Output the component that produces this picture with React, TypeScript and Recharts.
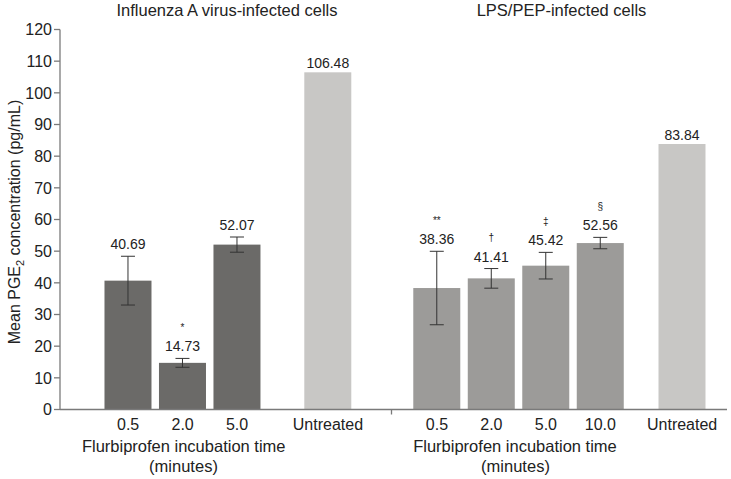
import React from 'react'
import { BarChart, Bar, XAxis, YAxis, ErrorBar, LabelList, Cell } from 'recharts'

// Influenza A virus-infected cells
const leftCategories = ['0.5', '2.0', '5.0', 'Untreated']
const leftValues = [40.69, 14.73, 52.07, 106.48]
const leftErrors = [7.7, 1.4, 2.4, null]
const leftMarks = ['', '*', '', '']

// LPS/PEP-infected cells
const rightCategories = ['0.5', '2.0', '5.0', '10.0', 'Untreated']
const rightValues = [38.36, 41.41, 45.42, 52.56, 83.84]
const rightErrors = [11.6, 3.1, 4.2, 1.8, null]
const rightMarks = ['**', '†', '‡', '§', '']

const yTicks = [0, 10, 20, 30, 40, 50, 60, 70, 80, 90, 100, 110, 120]

// layout: the axis is cut into narrow slots so the gaps between bars can differ
const SLOT_COUNT = 73
const leftSlots = [7, 13, 19, 29]
const rightSlots = [41, 47, 53, 59, 68]
const dividerSlot = 36
const BAR_W = 47

const FONT = '"Liberation Sans", Arial, Helvetica, sans-serif'
const TEXT = '#222'
const AXIS = '#7a7a7a'
const colors: Record<string, string> = { a: '#6b6a68', b: '#9c9b99', u: '#c8c7c5' }

document.body.style.margin = '0'

type Row = {
  id: string
  label: string
  value?: number
  err?: number
  mark?: string
  kind?: string
  divider?: boolean
}

const rows: Row[] = Array.from({ length: SLOT_COUNT }, (_, i) => ({ id: 's' + i, label: '' }))
rows[dividerSlot].divider = true

leftSlots.forEach((slot, i) => {
  const r = rows[slot]
  r.label = leftCategories[i]
  r.value = leftValues[i]
  r.err = leftErrors[i] ?? undefined
  r.mark = leftMarks[i]
  r.kind = leftCategories[i] === 'Untreated' ? 'u' : 'a'
})
rightSlots.forEach((slot, i) => {
  const r = rows[slot]
  r.label = rightCategories[i]
  r.value = rightValues[i]
  r.err = rightErrors[i] ?? undefined
  r.mark = rightMarks[i]
  r.kind = rightCategories[i] === 'Untreated' ? 'u' : 'b'
})

const byId: Record<string, Row> = {}
rows.forEach((r) => { byId[r.id] = r })

const renderBar = (p: any) => {
  const row: Row | undefined = p.payload
  if (!row || row.value == null || !p.height) return <g />
  const cx = p.x + p.width / 2
  return <rect x={cx - BAR_W / 2} y={p.y} width={BAR_W} height={p.height} fill={p.fill} />
}

const renderLabel = (props: any) => {
  const vb = props.viewBox ?? props
  const row = byId[props.value]
  if (!row || row.value == null || !vb.height) return null
  const perUnit = vb.height / row.value
  const top = vb.y - (row.err ?? 0) * perUnit
  const base = top - (row.err ? 7 : 4.5)
  const cx = vb.x + vb.width / 2
  return (
    <g>
      <text x={cx} y={base} textAnchor="middle" fontSize={14} fill={TEXT} fontFamily={FONT}>
        {row.value.toFixed(2)}
      </text>
      {row.mark ? (
        <text x={cx} y={base - 24} textAnchor="middle" dominantBaseline="central" fontSize={10} fill={TEXT} fontFamily={FONT}>
          {row.mark}
        </text>
      ) : null}
    </g>
  )
}

const renderTick = (props: any) => {
  const { x, y, payload } = props
  const row = byId[payload.value]
  if (!row) return <g />
  return (
    <g>
      {row.divider ? <line x1={x} x2={x} y1={y} y2={y + 5} stroke={AXIS} strokeWidth={1.3} /> : null}
      {row.label ? (
        <text x={x} y={y + 20.5} textAnchor="middle" fontSize={16} fill={TEXT} fontFamily={FONT}>
          {row.label}
        </text>
      ) : null}
    </g>
  )
}

const App = () => (
  <div style={{ position: 'relative', width: 731, height: 479, background: '#fff' }}>
    <BarChart width={731} height={479} data={rows} margin={{ top: 29.5, right: 4, bottom: 39.5, left: 0 }}>
      <XAxis
        dataKey="id"
        height={30}
        interval={0}
        tickLine={false}
        tickSize={0}
        tickMargin={0}
        tick={renderTick}
        axisLine={{ stroke: AXIS, strokeWidth: 1.3 }}
        padding={{ left: 0, right: 4 }}
      />
      <YAxis
        domain={[0, 120]}
        ticks={yTicks}
        interval={0}
        width={60}
        tickSize={6}
        tickMargin={2}
        tick={{ fontSize: 16, fill: TEXT, fontFamily: FONT }}
        tickLine={{ stroke: AXIS, strokeWidth: 1.3 }}
        axisLine={{ stroke: AXIS, strokeWidth: 1.3 }}
      />
      <Bar dataKey="value" shape={renderBar} isAnimationActive={false}>
        {rows.map((r) => (
          <Cell key={r.id} fill={r.kind ? colors[r.kind] : 'none'} />
        ))}
        <ErrorBar dataKey="err" width={7} stroke="#333" strokeWidth={1} />
        <LabelList dataKey="id" content={renderLabel} />
      </Bar>
    </BarChart>
    <svg
      width={731}
      height={479}
      style={{ position: 'absolute', left: 0, top: 0, pointerEvents: 'none', overflow: 'visible' }}
      fontFamily={FONT}
      fill={TEXT}
    >
      <text x={227} y={15.5} textAnchor="middle" fontSize={16.5}>Influenza A virus-infected cells</text>
      <text x={561.5} y={15.5} textAnchor="middle" fontSize={16.5}>LPS/PEP-infected cells</text>
      <text x={183.7} y={452} textAnchor="middle" fontSize={16.5}>Flurbiprofen incubation time</text>
      <text x={183.5} y={472} textAnchor="middle" fontSize={16.5}>(minutes)</text>
      <text x={515} y={452} textAnchor="middle" fontSize={16.5}>Flurbiprofen incubation time</text>
      <text x={515.5} y={472} textAnchor="middle" fontSize={16.5}>(minutes)</text>
      <text transform="translate(19.5,222) rotate(-90)" textAnchor="middle" fontSize={16}>
        Mean PGE<tspan fontSize={11} dy={4}>2</tspan>
        <tspan dy={-4}> concentration (pg/mL)</tspan>
      </text>
    </svg>
  </div>
)

export default App
